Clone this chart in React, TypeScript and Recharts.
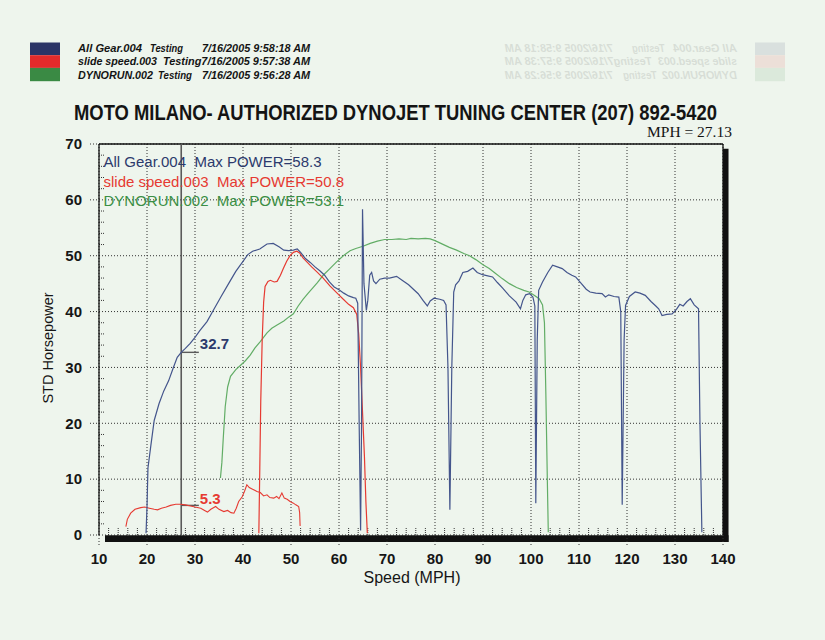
import React from 'react';
import {
  LineChart,
  Line,
  XAxis,
  YAxis,
  CartesianGrid,
  ReferenceLine,
  ReferenceArea,
  ReferenceDot,
} from 'recharts';

// ---------- axis ticks ----------
const speedTicks = [10, 20, 30, 40, 50, 60, 70, 80, 90, 100, 110, 120, 130, 140];
const powerTicks = [0, 10, 20, 30, 40, 50, 60, 70];
const minorSpeedTicks = speedTicks.flatMap((t) => (t < 140 ? [t + 2, t + 4, t + 6, t + 8] : []));
const minorPowerTicks = powerTicks.flatMap((t) => (t < 70 ? [t + 2, t + 4, t + 6, t + 8] : []));

// ---------- series: [speed mph, STD horsepower] ----------
const allGear004: [number, number][] = [
  [19.8, 0.3], [20.0, 5], [20.2, 12], [20.8, 16], [21.5, 20.5], [22.5, 23.5], [23.5, 25.8],
  [24.5, 27.6], [25.5, 30.0], [26.3, 31.8], [27.13, 32.7], [28.0, 33.4], [29.0, 34.3],
  [30.0, 35.4], [31.0, 36.6], [32.5, 38.2], [34.0, 40.5], [35.5, 42.8], [37.0, 45.0],
  [38.5, 47.2], [40.0, 49.0], [41.0, 50.2], [42.0, 50.8], [43.5, 51.2], [45.0, 52.1],
  [46.3, 52.2], [47.5, 51.6], [48.5, 51.0], [49.5, 50.9], [50.5, 51.0], [51.3, 51.2],
  [52.0, 50.6], [53.0, 49.5], [54.0, 48.8], [55.0, 48.0], [56.0, 47.3], [57.0, 46.5],
  [58.0, 45.3], [59.0, 44.4], [60.0, 43.9], [61.0, 43.3], [62.0, 42.8], [63.0, 42.5],
  [63.5, 42.4], [63.9, 41.5], [64.2, 20], [64.5, 0.8], [64.7, 20], [64.9, 58.3],
  [65.2, 45], [65.7, 40.2], [66.0, 42], [66.4, 46.5], [66.8, 47], [67.2, 45.5], [67.7, 45],
  [68.5, 45.8], [69.5, 46.0], [70.5, 46.0], [72.0, 46.3], [73.0, 45.7], [74.5, 44.8],
  [75.5, 44.0], [76.5, 43.2], [77.5, 42.0], [78.4, 41.0], [79.0, 41.9], [79.8, 42.4],
  [81.0, 42.2], [81.8, 42.0], [82.3, 41.2], [82.7, 30], [83.1, 4.5], [83.5, 30],
  [83.9, 43.5], [84.3, 44.8], [85.0, 45.5], [85.8, 47.0], [86.8, 47.2], [87.9, 47.8],
  [88.8, 47.0], [89.9, 46.6], [91.0, 46.4], [92.0, 46.2], [93.0, 45.2], [94.1, 44.2],
  [95.5, 42.8], [96.9, 41.7], [97.8, 40.5], [98.3, 42.0], [98.9, 43.0], [99.7, 43.2],
  [100.4, 42.6], [100.8, 41.0], [101.0, 5.7], [101.3, 35], [101.6, 43.8], [102.4, 45.3],
  [103.5, 47.0], [104.5, 48.3], [105.5, 48.0], [106.5, 47.7], [107.5, 47.0], [108.5, 46.5],
  [109.3, 46.2], [110.5, 45.0], [111.5, 44.0], [112.3, 43.5], [113.5, 43.3], [114.8, 43.2],
  [115.5, 42.6], [116.2, 43.0], [117.3, 42.7], [118.3, 42.6], [118.7, 40], [119.0, 5.4],
  [119.4, 35], [119.7, 41.1], [120.5, 42.7], [121.7, 43.5], [122.7, 43.3], [123.8, 42.9],
  [125.0, 41.8], [126.0, 41.0], [126.6, 40.5], [127.3, 39.3], [128.3, 39.5], [129.4, 39.6],
  [130.3, 40.4], [131.0, 41.3], [131.7, 41.0], [132.5, 41.8], [133.2, 42.3], [134.0, 41.2],
  [134.9, 40.5], [135.2, 20], [135.6, 0.5],
];

const slideSpeed003Low: [number, number][] = [
  [15.6, 1.5], [15.9, 2.8], [16.6, 3.9], [17.5, 4.6], [18.7, 4.9], [19.5, 5.0], [20.5, 4.8],
  [21.5, 4.6], [22.2, 4.5], [23.0, 4.8], [24.0, 5.0], [24.9, 5.3], [26.0, 5.5], [27.0, 5.5],
  [28.0, 5.4], [29.1, 5.2], [30.0, 5.0], [31.2, 4.8], [32.0, 4.4], [32.6, 4.1], [33.3, 4.6],
  [34.3, 5.1], [35.0, 4.6], [36.0, 4.2], [36.8, 4.4], [37.5, 4.0], [38.1, 3.9], [38.6, 4.8],
  [39.1, 6.0], [39.8, 6.8], [40.3, 7.8], [40.8, 9.0], [41.3, 8.5], [42.0, 8.2], [42.9, 7.8],
  [43.6, 7.6], [44.3, 7.0], [45.0, 7.2], [45.6, 6.7], [46.4, 6.6], [47.0, 6.9], [47.5, 6.5],
  [48.1, 7.5], [48.6, 6.6], [49.2, 6.4], [49.8, 6.0], [50.5, 5.7], [51.0, 5.4], [51.6, 5.1],
  [51.8, 4.0], [51.9, 1.6],
];

const slideSpeed003: [number, number][] = [
  [43.3, 0.3], [43.5, 12], [43.7, 24], [44.0, 35], [44.3, 41.7], [44.6, 44.5], [45.2, 45.4],
  [45.7, 45.6], [46.5, 45.3], [47.1, 45.4], [47.8, 46.5], [48.4, 47.7], [49.1, 49.0],
  [49.8, 50.0], [50.5, 50.6], [51.2, 50.8], [51.8, 50.5], [52.5, 49.6], [53.3, 48.9],
  [54.3, 48.0], [55.4, 47.1], [56.7, 46.0], [58.1, 44.6], [59.5, 43.4], [60.9, 42.2],
  [62.0, 41.3], [63.0, 40.7], [63.7, 39.5], [64.1, 36], [64.5, 30], [64.9, 22], [65.3, 14],
  [65.6, 6], [65.9, 0.3],
];

const dynorun002: [number, number][] = [
  [35.3, 10.2], [35.6, 13], [35.9, 17.5], [36.3, 23], [36.8, 26.5], [37.4, 28.4], [38.5, 29.6],
  [39.5, 30.4], [40.5, 31.2], [41.5, 32.2], [42.5, 33.5], [43.6, 34.6], [45.0, 36.2],
  [46.0, 37.0], [47.1, 37.6], [48.5, 38.3], [49.5, 39.0], [50.5, 39.6], [51.5, 41.0],
  [52.5, 42.2], [53.5, 43.2], [54.5, 44.2], [55.5, 45.2], [56.7, 46.5], [58.0, 47.6],
  [59.5, 48.9], [60.9, 50.0], [62.3, 50.9], [63.5, 51.3], [65.0, 51.7], [66.5, 52.2],
  [68.0, 52.6], [69.5, 52.9], [71.0, 52.9], [72.5, 53.0], [74.0, 52.9], [75.0, 53.1],
  [76.5, 53.0], [78.0, 53.1], [79.0, 53.0], [80.0, 52.7], [81.0, 52.3], [82.0, 51.9],
  [83.0, 51.5], [84.5, 51.0], [86.0, 50.4], [87.2, 50.0], [88.5, 49.3], [90.0, 48.4],
  [91.3, 47.7], [92.5, 46.9], [94.0, 45.9], [95.5, 45.0], [97.0, 44.3], [98.5, 43.8],
  [99.6, 43.5], [100.5, 43.0], [101.7, 42.3], [102.4, 41.2], [102.8, 38], [103.1, 25],
  [103.4, 10], [103.6, 0.5],
];

// ---------- cursor ----------
const cursorMph = 27.13;
const cursorBlueHp = 32.7;
const cursorRedHp = 5.3;
const cursorMarkEnd = 30.8;

// ---------- colours ----------
const NAVY = '#2c3a6c';
const BLUE_LINE = '#44558c';
const RED = '#e63a32';
const GREEN = '#3b8f45';
const GREEN_LINE = '#62ad66';

const toPts = (arr: [number, number][]) => arr.map(([x, y]) => ({ x, y }));

const SANS = "'Liberation Sans', Arial, Helvetica, sans-serif";

function HeaderBlock() {
  const f = { fontFamily: SANS, fontWeight: 700, fontStyle: 'italic', fontSize: 11, fill: '#141414' } as const;
  return (
    <g>
      <rect x={30} y={42.5} width={30} height={12.7} fill="#2b3466" />
      <rect x={30} y={55.2} width={30} height={12.7} fill="#e32b2b" />
      <rect x={30} y={67.9} width={30} height={13.3} fill="#3a8a44" />
      <text x={78} y={51.5} {...f} textLength={64} lengthAdjust="spacingAndGlyphs">All Gear.004</text>
      <text x={150} y={51.5} {...f} textLength={33} lengthAdjust="spacingAndGlyphs">Testing</text>
      <text x={202} y={51.5} {...f} textLength={108} lengthAdjust="spacingAndGlyphs">7/16/2005 9:58:18 AM</text>
      <text x={78} y={65} {...f} textLength={79} lengthAdjust="spacingAndGlyphs">slide speed.003</text>
      <text x={163} y={65} {...f} textLength={147} lengthAdjust="spacingAndGlyphs">Testing7/16/2005 9:57:38 AM</text>
      <text x={78} y={78.5} {...f} textLength={75} lengthAdjust="spacingAndGlyphs">DYNORUN.002</text>
      <text x={158} y={78.5} {...f} textLength={34} lengthAdjust="spacingAndGlyphs">Testing</text>
      <text x={202} y={78.5} {...f} textLength={108} lengthAdjust="spacingAndGlyphs">7/16/2005 9:56:28 AM</text>
    </g>
  );
}

const BlueCursorLabel = (p: any) => (
  <text x={p.cx + 1} y={p.cy - 3.4} fill={NAVY} fontFamily={SANS} fontWeight={700} fontSize={15}>
    {String(cursorBlueHp)}
  </text>
);
const RedCursorLabel = (p: any) => (
  <text x={p.cx + 1} y={p.cy - 1.5} fill={RED} fontFamily={SANS} fontWeight={700} fontSize={15}>
    {String(cursorRedHp)}
  </text>
);

export default function App() {
  const tickStyle = { fill: '#161616', fontSize: 15, fontWeight: 700, fontFamily: SANS };
  return (
    <div
      style={{
        position: 'absolute',
        left: 0,
        top: 0,
        width: 825,
        height: 640,
        background: '#eef5ed',
        overflow: 'hidden',
      }}
    >
      <LineChart width={825} height={640} margin={{ top: 144, right: 102, bottom: 75, left: 39 }}>
        <CartesianGrid stroke="#333" strokeDasharray="1 2" strokeWidth={1} />
        <XAxis
          type="number"
          dataKey="x"
          domain={[10, 140]}
          ticks={speedTicks}
          interval={0}
          allowDataOverflow
          height={30}
          tickSize={10}
          tickMargin={8}
          axisLine={false}
          tickLine={{ stroke: '#333', strokeDasharray: '1 2' }}
          tick={tickStyle}
        />
        <YAxis
          type="number"
          dataKey="y"
          domain={[0, 70]}
          ticks={powerTicks}
          interval={0}
          allowDataOverflow
          width={60}
          tickSize={9}
          tickMargin={8}
          axisLine={{ stroke: '#111', strokeWidth: 1.3 }}
          tickLine={{ stroke: '#333', strokeDasharray: '1 2' }}
          tick={tickStyle}
        />
        {/* frame */}
        <ReferenceLine y={70} stroke="#111" strokeWidth={1.3} />
        <ReferenceLine x={140} stroke="#111" strokeWidth={1.3} />
        <ReferenceArea x1={140} x2={141.15} y1={-1.25} y2={69.15} fill="#111" fillOpacity={1} stroke="none" ifOverflow="visible" />
        <ReferenceArea x1={11.25} x2={141.15} y1={-1.25} y2={-0.05} fill="#111" fillOpacity={1} stroke="none" ifOverflow="visible" />
        {/* minor ticks */}
        {minorSpeedTicks.map((v) => (
          <ReferenceLine
            key={'mx' + v}
            segment={[{ x: v, y: 0 }, { x: v, y: 1.25 }]}
            stroke="#333"
            strokeDasharray="1 1"
            ifOverflow="visible"
          />
        ))}
        {minorPowerTicks.map((v) => (
          <ReferenceLine
            key={'my' + v}
            segment={[{ x: 10, y: v }, { x: 11.05, y: v }]}
            stroke="#333"
            strokeDasharray="1 1"
            ifOverflow="visible"
          />
        ))}
        {/* cursor */}
        <ReferenceLine x={cursorMph} stroke="#5a5a5a" strokeWidth={1.6} />
        <ReferenceLine segment={[{ x: cursorMph, y: cursorBlueHp }, { x: cursorMarkEnd, y: cursorBlueHp }]} stroke="#5a5a5a" strokeWidth={1.4} />
        <ReferenceLine segment={[{ x: cursorMph, y: cursorRedHp }, { x: cursorMarkEnd, y: cursorRedHp }]} stroke="#5a5a5a" strokeWidth={1.4} />
        <ReferenceDot x={cursorMarkEnd} y={cursorBlueHp} r={1} shape={BlueCursorLabel} />
        <ReferenceDot x={cursorMarkEnd} y={cursorRedHp} r={1} shape={RedCursorLabel} />
        {/* series */}
        <Line data={toPts(dynorun002)} dataKey="y" type="linear" stroke={GREEN_LINE} strokeWidth={1.2} dot={false} isAnimationActive={false} />
        <Line data={toPts(slideSpeed003Low)} dataKey="y" type="linear" stroke={RED} strokeWidth={1.1} dot={false} isAnimationActive={false} />
        <Line data={toPts(slideSpeed003)} dataKey="y" type="linear" stroke={RED} strokeWidth={1.2} dot={false} isAnimationActive={false} />
        <Line data={toPts(allGear004)} dataKey="y" type="linear" stroke={BLUE_LINE} strokeWidth={1.2} dot={false} isAnimationActive={false} />
      </LineChart>

      <svg
        width={825}
        height={640}
        style={{ position: 'absolute', left: 0, top: 0, pointerEvents: 'none' }}
      >
        {/* faint show-through from the back of the sheet */}
        <g transform="translate(815,0) scale(-1,1)" opacity={0.1}>
          <HeaderBlock />
        </g>
        <HeaderBlock />
        <g transform="translate(74,120) scale(1,1.25)">
          <text
            x={0}
            y={0}
            fontFamily="'Liberation Sans', Arial, sans-serif"
            fontWeight={700}
            fontSize={17.4}
            fill="#141414"
            textLength={643}
            lengthAdjust="spacingAndGlyphs"
          >
            MOTO MILANO- AUTHORIZED DYNOJET TUNING CENTER (207) 892-5420
          </text>
        </g>
        <text x={647} y={137} fontFamily="'Liberation Serif', 'Times New Roman', serif" fontSize={15.5} fill="#141414">
          MPH = 27.13
        </text>
        <text x={103.5} y={166.5} fontFamily={SANS} fontSize={15} fill={NAVY} style={{ whiteSpace: 'pre' }}>
          {'All Gear.004  Max POWER=58.3'}
        </text>
        <text x={103.5} y={186.5} fontFamily={SANS} fontSize={15} fill={RED} style={{ whiteSpace: 'pre' }}>
          {'slide speed.003  Max POWER=50.8'}
        </text>
        <text x={103.5} y={205.5} fontFamily={SANS} fontSize={15} fill={GREEN} style={{ whiteSpace: 'pre' }}>
          {'DYNORUN.002  Max POWER=53.1'}
        </text>
        <text
          x={48}
          y={348}
          transform="rotate(-90 48 348)"
          textAnchor="middle"
          dominantBaseline="central"
          fontFamily={SANS}
          fontSize={14.5}
          fill="#161616"
        >
          STD Horsepower
        </text>
        <text x={412} y={583} textAnchor="middle" fontFamily={SANS} fontSize={16} fill="#161616">
          Speed (MPH)
        </text>
      </svg>
    </div>
  );
}
